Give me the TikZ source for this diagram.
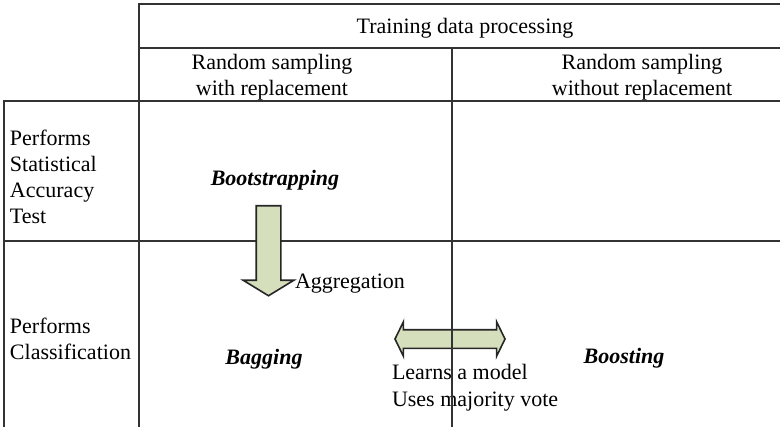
\documentclass[tikz,border=0pt]{standalone}
\usepackage{fontspec}
\setmainfont{Liberation Serif}
\usetikzlibrary{shapes.arrows,positioning}

\begin{document}
\begin{tikzpicture}[x=0.5pt,y=-0.5pt]
\tikzstyle{txt}=[inner sep=0pt,outer sep=0pt,
font=\fontsize{11}{13}\selectfont,align=center]
\tikzstyle{meth}=[txt,font=\fontsize{11}{13}\selectfont\bfseries\itshape]
\tikzstyle{rule}=[line width=1pt,draw=black!80]
\tikzstyle{blk}=[draw=black!85,line width=0.8pt,outer sep=0pt,
fill={rgb,255:red,214;green,223;blue,188}]
\useasboundingbox (0,0) rectangle (780,427);

% texts
\node[txt] at (465,28) (top) {Training data processing};
\node[txt] at (272,77) (wr) {Random sampling\\with replacement};
\node[txt] at (642,77) (wor) {Random sampling\\without replacement};
\node[txt,align=left,anchor=west] at (10,177) (sat) {Performs\\Statistical\\Accuracy\\Test};
\node[txt,align=left,anchor=west] at (10,339) (cls) {Performs\\Classification};
\node[meth] at (275,180) (boot) {Bootstrapping};
\node[meth] at (264,359) (bag) {Bagging};
\node[meth] at (624,358) (boost) {Boosting};

% arrows
\node[blk,double arrow,inner sep=4.25pt,minimum height=55pt,
double arrow head extend=4pt,double arrow tip angle=128] at (450,339) (vote) {};
\node[txt,align=left,anchor=north west,font=\fontsize{11}{13.5}\selectfont]
  at (392,364) (lm) {Learns a model\\Uses majority vote};

% table lines
\draw[rule] (780,4) -- (139,4) -- (139,427);
\draw[rule] (139,48) -- (780,48);
\draw[rule] (4,427) -- (4,101) -- (780,101);
\draw[rule] (4,241) -- (780,241);
\draw[rule] (452,48) -- (452,427);

\node[blk,single arrow,shape border rotate=270,inner sep=5.75pt,minimum height=45pt,
single arrow head extend=6.5pt,single arrow tip angle=117] at (268.5,247) (agg) {};
\node[txt,anchor=west] at (295,284) (agglab) {Aggregation};

\end{tikzpicture}
\end{document}
